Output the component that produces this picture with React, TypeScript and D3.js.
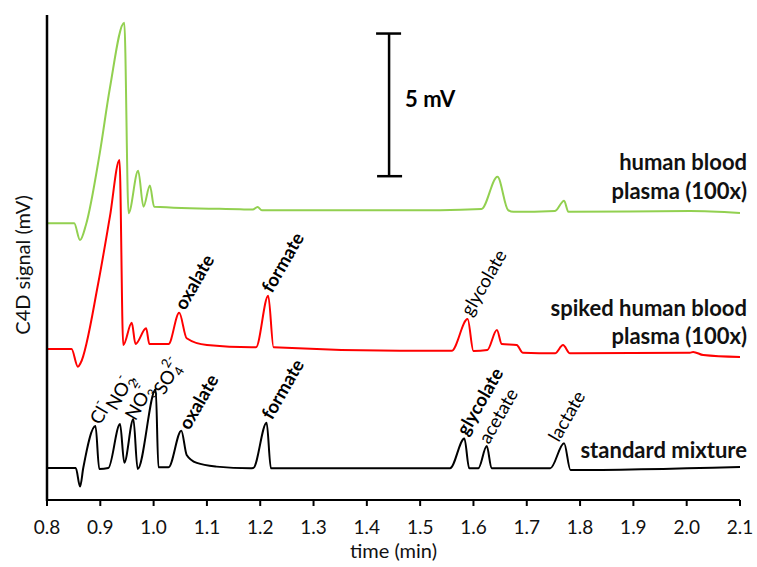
import React, { useEffect, useRef } from 'react';
import * as d3 from 'd3';

// time (min), signal (mV)
const standardTime = [0.8, 0.854, 0.862, 0.868, 0.891, 0.898, 0.915, 0.937, 0.945, 0.962, 0.97, 1.004, 1.009, 1.028, 1.052, 1.062, 1.081, 1.118, 1.181, 1.187, 1.212, 1.22, 1.556, 1.583, 1.592, 1.609, 1.625, 1.634, 1.744, 1.77, 1.782, 2.1];
const standardSignal = [1.12, 1.12, 0.47, 1.12, 2.59, 1.09, 1.12, 2.66, 1.31, 2.84, 1.09, 3.88, 1.15, 1.15, 2.43, 1.58, 1.3, 1.17, 1.11, 1.12, 2.71, 1.11, 1.11, 2.16, 1.11, 1.11, 1.89, 1.11, 1.11, 1.99, 1.05, 1.16];

const spikedTime = [0.8, 0.846, 0.858, 0.863, 0.896, 0.918, 0.936, 0.943, 0.959, 0.966, 0.986, 0.992, 1.028, 1.048, 1.062, 1.1, 1.184, 1.192, 1.215, 1.225, 1.462, 1.559, 1.589, 1.6, 1.626, 1.644, 1.653, 1.681, 1.693, 1.753, 1.768, 1.781, 2.006, 2.012, 2.031, 2.1];
const spikedSignal = [5.29, 5.29, 4.67, 4.8, 7.59, 9.93, 11.92, 5.43, 6.21, 5.47, 6.02, 5.47, 5.47, 6.56, 5.67, 5.43, 5.35, 5.35, 7.16, 5.35, 5.23, 5.23, 6.34, 5.22, 5.26, 5.96, 5.47, 5.43, 5.16, 5.14, 5.43, 5.14, 5.16, 5.19, 5.08, 5.01];

const plasmaTime = [0.8, 0.851, 0.862, 0.873, 0.899, 0.918, 0.945, 0.953, 0.971, 0.981, 0.993, 1.001, 1.162, 1.186, 1.195, 1.203, 1.537, 1.615, 1.645, 1.665, 1.675, 1.753, 1.77, 1.778, 2.006, 2.1];
const plasmaSignal = [9.7, 9.7, 9.11, 9.64, 12.16, 14.44, 16.73, 10.05, 11.54, 10.28, 11.02, 10.28, 10.19, 10.18, 10.27, 10.16, 10.16, 10.2, 11.33, 10.16, 10.1, 10.13, 10.49, 10.1, 10.13, 10.06];

const xTicks = [0.8, 0.9, 1.0, 1.1, 1.2, 1.3, 1.4, 1.5, 1.6, 1.7, 1.8, 1.9, 2.0, 2.1];

// peak labels: [text, sub, sup, tail], anchor time, anchor signal, bold
const peakLabels = [
  { parts: ['Cl', '', '-', ''], t: 0.9, v: 2.6, bold: false },
  { parts: ['NO', '2', '-', ','], t: 0.93, v: 3.1, bold: false },
  { parts: ['NO', '3', '-', ''], t: 0.966, v: 2.75, bold: false },
  { parts: ['SO', '4', '2-', ''], t: 1.02, v: 3.65, bold: false },
  { parts: ['oxalate', '', '', ''], t: 1.067, v: 2.42, bold: true },
  { parts: ['formate', '', '', ''], t: 1.222, v: 2.78, bold: true },
  { parts: ['glycolate', '', '', ''], t: 1.588, v: 2.22, bold: true },
  { parts: ['acetate', '', '', ''], t: 1.629, v: 1.93, bold: false },
  { parts: ['lactate', '', '', ''], t: 1.76, v: 2.0, bold: false },
  { parts: ['oxalate', '', '', ''], t: 1.059, v: 6.62, bold: true },
  { parts: ['formate', '', '', ''], t: 1.222, v: 7.22, bold: true },
  { parts: ['glycolate', '', '', ''], t: 1.596, v: 6.41, bold: false },
];

const traceNames = [
  { lines: ['human blood', 'plasma (100x)'], y: [170, 199] },
  { lines: ['spiked human blood', 'plasma (100x)'], y: [316, 344] },
  { lines: ['standard mixture'], y: [458] },
];

const ElectropherogramChart = () => {
  const chartRef = useRef<HTMLDivElement>(null);

  useEffect(() => {
    const width = 757;
    const height = 567;
    const font = 'Lato, "Open Sans", sans-serif';

    d3.select(chartRef.current).selectAll('*').remove();

    const svg = d3
      .select(chartRef.current)
      .append('svg')
      .attr('width', width)
      .attr('height', height)
      .style('font-family', font)
      .style('display', 'block');

    const x = d3.scaleLinear().domain([0.8, 2.1]).range([47, 740]);
    const y = d3.scaleLinear().domain([0, 17]).range([500, 15]);

    const line = d3
      .line<[number, number]>()
      .x(d => x(d[0]))
      .y(d => y(d[1]))
      .curve(d3.curveMonotoneX);

    const traces = [
      { t: plasmaTime, v: plasmaSignal, color: '#92D050' },
      { t: spikedTime, v: spikedSignal, color: '#FF0000' },
      { t: standardTime, v: standardSignal, color: '#000000' },
    ];

    traces.forEach(tr => {
      const pts = tr.t.map((t, i) => [t, tr.v[i]] as [number, number]);
      svg
        .append('path')
        .attr('d', line(pts))
        .attr('fill', 'none')
        .attr('stroke', tr.color)
        .attr('stroke-width', 2)
        .attr('stroke-linejoin', 'round');
    });

    // axes
    const xAxis = svg.append('g').attr('transform', `translate(0,${y(0)})`);
    xAxis
      .append('line')
      .attr('x1', x(0.8))
      .attr('x2', x(2.1))
      .attr('stroke', '#000')
      .attr('stroke-width', 2);
    xAxis
      .selectAll('.tick')
      .data(xTicks)
      .enter()
      .append('line')
      .attr('x1', d => x(d))
      .attr('x2', d => x(d))
      .attr('y1', 0)
      .attr('y2', 6)
      .attr('stroke', '#000')
      .attr('stroke-width', 2);
    xAxis
      .selectAll('.lab')
      .data(xTicks)
      .enter()
      .append('text')
      .attr('x', d => x(d))
      .attr('y', 34)
      .attr('text-anchor', 'middle')
      .style('font-size', '19px')
      .attr('fill', '#111')
      .text(d => d3.format('.1f')(d));

    svg
      .append('line')
      .attr('x1', x(0.8))
      .attr('x2', x(0.8))
      .attr('y1', y(17))
      .attr('y2', y(0) + 1)
      .attr('stroke', '#000')
      .attr('stroke-width', 2.5);

    svg
      .append('text')
      .attr('x', (x(0.8) + x(2.1)) / 2)
      .attr('y', 558)
      .attr('text-anchor', 'middle')
      .style('font-size', '20px')
      .attr('fill', '#111')
      .text('time (min)');

    svg
      .append('text')
      .attr('transform', 'translate(30,265) rotate(-90)')
      .attr('text-anchor', 'middle')
      .style('font-size', '20px')
      .attr('fill', '#111')
      .text('C4D signal (mV)');

    // 5 mV scale bar
    const barX = x(1.4417);
    const barTop = 16.35;
    const bar = svg.append('g').attr('stroke', '#000').attr('stroke-width', 2.5);
    bar.append('line').attr('x1', barX).attr('x2', barX).attr('y1', y(barTop)).attr('y2', y(barTop - 5));
    bar.append('line').attr('x1', barX - 13).attr('x2', barX + 12).attr('y1', y(barTop)).attr('y2', y(barTop));
    bar.append('line').attr('x1', barX - 12).attr('x2', barX + 13).attr('y1', y(barTop - 5)).attr('y2', y(barTop - 5));
    svg
      .append('text')
      .attr('x', barX + 16)
      .attr('y', 107)
      .style('font-size', '22px')
      .style('font-weight', 'bold')
      .text('5 mV');

    // peak labels
    peakLabels.forEach(l => {
      const txt = svg
        .append('text')
        .attr('transform', `translate(${x(l.t)},${y(l.v)}) rotate(-60)`)
        .style('font-size', '18.5px')
        .style('font-weight', l.bold ? 'bold' : 'normal')
        .attr('fill', '#000');
      txt.append('tspan').text(l.parts[0]);
      let shift = 0;
      if (l.parts[1]) {
        txt.append('tspan').attr('dy', 5).style('font-size', '13px').text(l.parts[1]);
        shift = 5;
      }
      if (l.parts[2]) {
        const sup = txt
          .append('tspan')
          .attr('dy', -10 - shift)
          .style('font-size', '13px')
          .text(l.parts[2]);
        if (l.parts[1]) sup.attr('dx', -7);
        shift = -10;
      }
      if (l.parts[3]) {
        txt.append('tspan').attr('dy', -shift).text(l.parts[3]);
      }
    });

    // trace names
    traceNames.forEach(n => {
      n.lines.forEach((s, i) => {
        svg
          .append('text')
          .attr('x', 747)
          .attr('y', n.y[i])
          .attr('text-anchor', 'end')
          .style('font-size', '22px')
          .style('font-weight', 'bold')
          .attr('fill', '#111')
          .text(s);
      });
    });
  }, []);

  return <div ref={chartRef} style={{ position: 'absolute', left: 0, top: 0 }}></div>;
};

export default function App() {
  return <ElectropherogramChart />;
}
